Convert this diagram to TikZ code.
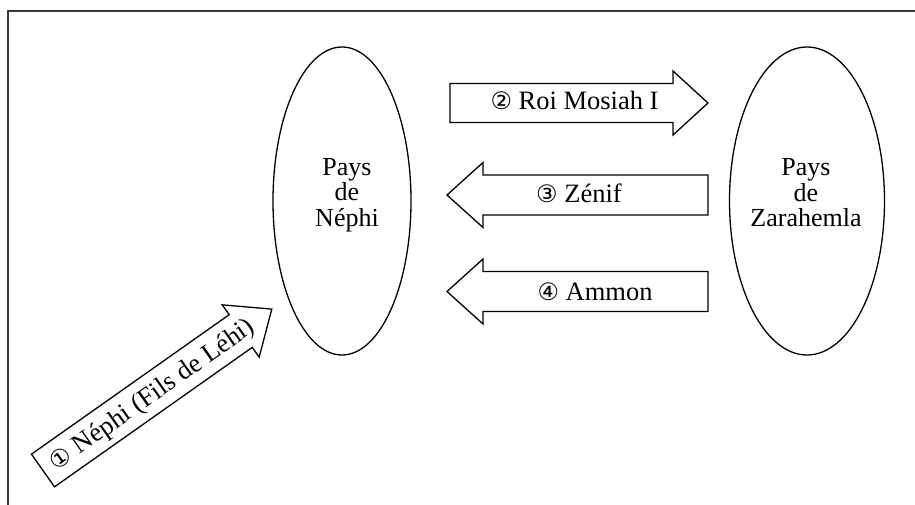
\documentclass[tikz,border=0pt]{standalone}
\usepackage{fontspec}
\setmainfont{Liberation Serif}
\newfontfamily\circfont{DejaVu Sans}
\usetikzlibrary{shapes.geometric}
\newcommand\cnum[1]{{\circfont\fontsize{24}{24}\selectfont #1}}
\tikzset{
  region/.style={draw, ellipse, line width=1.3pt, inner sep=0pt,
                 minimum height=308pt},
  lbl/.style={font=\fontsize{26}{25.5}\selectfont, align=center, inner sep=0pt},
  blbl/.style={font=\fontsize{26.5}{26}\selectfont, inner sep=0pt, anchor=base},
  barrow/.style={draw, line width=1.3pt, fill=white, line join=miter},
  frameline/.style={draw, line width=1.5pt, black!78}
}
\begin{document}
\begin{tikzpicture}[x=1pt,y=-1pt]
\useasboundingbox (0,0) rectangle (915,505);
% frame (top and left only)
\draw[frameline] (915,11) -- (8,11) -- (8,505);

% regions
\node[region, minimum width=138pt] (nephi) at (342,201) {};
\node[region, minimum width=155pt] (zara)  at (807,201) {};
\node[lbl] (nephitxt) at (347,195) {Pays\\de\\Néphi};
\node[lbl] (zaratxt)  at (806,193) {Pays\\de\\Zarahemla};

% arrow 2 (right)
\draw[barrow] (450,83.5) -- (673,83.5) -- (673,71) -- (708,103) -- (673,135)
              -- (673,122.5) -- (450,122.5) -- cycle;
\node[blbl] (a2) at (574.5,110) {\cnum{②} Roi Mosiah I};

% arrow 3 (left)
\draw[barrow] (708,175) -- (483,175) -- (483,162.5) -- (447,195) -- (483,227.5)
              -- (483,215) -- (708,215) -- cycle;
\node[blbl] (a3) at (579,203) {\cnum{③} Zénif};

% arrow 4 (left)
\draw[barrow] (708,271.5) -- (483,271.5) -- (483,259) -- (447,291.5) -- (483,324)
              -- (483,311.5) -- (708,311.5) -- cycle;
\node[blbl] (a4) at (595,300.5) {\cnum{④} Ammon};

% arrow 1 (diagonal)
\begin{scope}[shift={(43,470.5)}, rotate=35.2]
  \draw[barrow] (0,-20) -- (242,-20) -- (242,-32) -- (280,0) -- (242,32)
                -- (242,20) -- (0,20) -- cycle;
  \node[blbl, transform shape] (a1) at (133,8.5)
       {\cnum{①} Néphi (Fils de Léhi)};
\end{scope}
\end{tikzpicture}
\end{document}
